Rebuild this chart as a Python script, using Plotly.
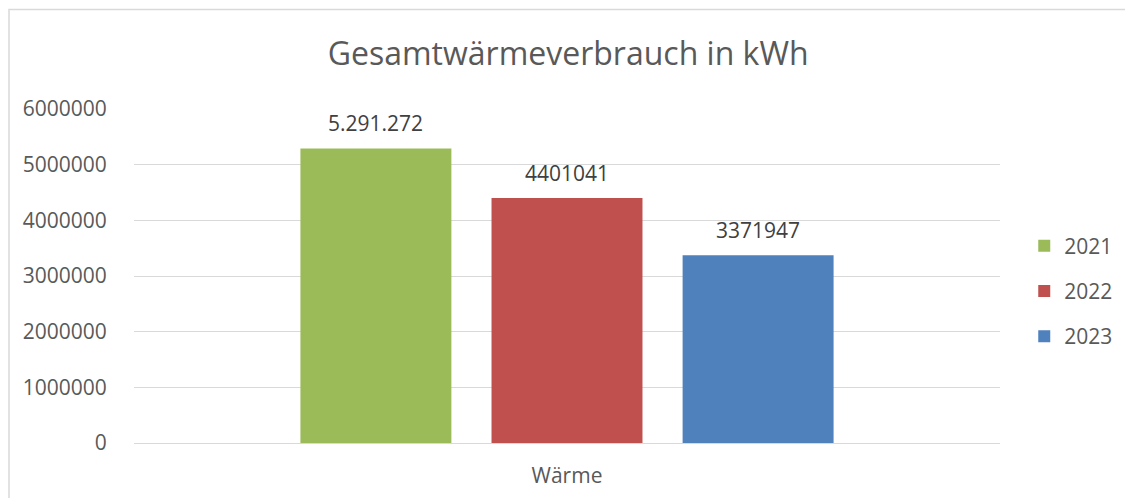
import plotly.graph_objects as go

categories = ["Wärme"]
series_names = ["2021", "2022", "2023"]
series_values = [[5291272], [4401041], [3371947]]
series_labels = ["5.291.272", "4401041", "3371947"]
series_colors = ["#9BBB59", "#C0504D", "#4F81BD"]
y_ticks = [0, 1000000, 2000000, 3000000, 4000000, 5000000, 6000000]

FONT = "Open Sans"
BARGAP = 0.338
BARGROUPGAP = 0.21

fig = go.Figure()
for i, (name, vals, col) in enumerate(zip(series_names, series_values, series_colors)):
    fig.add_trace(go.Bar(
        x=categories, y=vals, name=name, marker_color=col,
        marker_line_width=0, legendgroup=name,
    ))

slot = (1 - BARGAP) / len(series_names)
annotations = []
for i, (vals, lab) in enumerate(zip(series_values, series_labels)):
    annotations.append(dict(
        x=(i - (len(series_names) - 1) / 2) * slot, y=vals[0], xref="x", yref="y",
        text=lab, showarrow=False, yanchor="middle", yshift=25,
        font=dict(family=FONT, size=21, color="#404040"),
    ))

fig.update_layout(
    width=1125, height=498,
    margin=dict(l=134, r=125, t=109, b=55, autoexpand=False),
    paper_bgcolor="white", plot_bgcolor="white",
    barmode="group", bargap=BARGAP, bargroupgap=BARGROUPGAP,
    title=dict(text="Gesamtwärmeverbrauch in kWh", x=0.505, xanchor="center",
               y=1 - 54 / 498, yref="container", yanchor="middle",
               font=dict(family=FONT, size=32, color="#595959")),
    font=dict(family=FONT, size=21, color="#595959"),
    legend=dict(x=1.028, y=0.455, xanchor="left", yanchor="middle",
                tracegroupgap=15, font=dict(family=FONT, size=21, color="#595959"),
                itemwidth=30),
    annotations=annotations,
    shapes=[dict(type="rect", xref="paper", yref="paper",
                 x0=(9 - 134) / 866, x1=1.3, y0=-0.4, y1=1 + (109 - 9.5) / 334,
                 line=dict(color="#D9D9D9", width=1.5), layer="below")],
)
fig.update_yaxes(range=[0, 6000000], tickvals=y_ticks, ticktext=[str(v) for v in y_ticks],
                 showgrid=True, gridcolor="#D9D9D9", gridwidth=1.3,
                 zeroline=True, zerolinecolor="#D9D9D9", zerolinewidth=1.3,
                 ticks="outside", ticklen=22, tickcolor="rgba(0,0,0,0)",
                 tickfont=dict(family=FONT, size=21, color="#595959"), showline=False)
fig.update_xaxes(range=[-0.5, 0.5], showgrid=False, showline=False,
                 ticks="outside", ticklen=14, tickcolor="rgba(0,0,0,0)",
                 tickfont=dict(family=FONT, size=21, color="#595959"))

fig.write_html("out.html", config={"displayModeBar": False},
               post_script="document.body.style.margin='0';document.body.style.overflow='hidden';")
